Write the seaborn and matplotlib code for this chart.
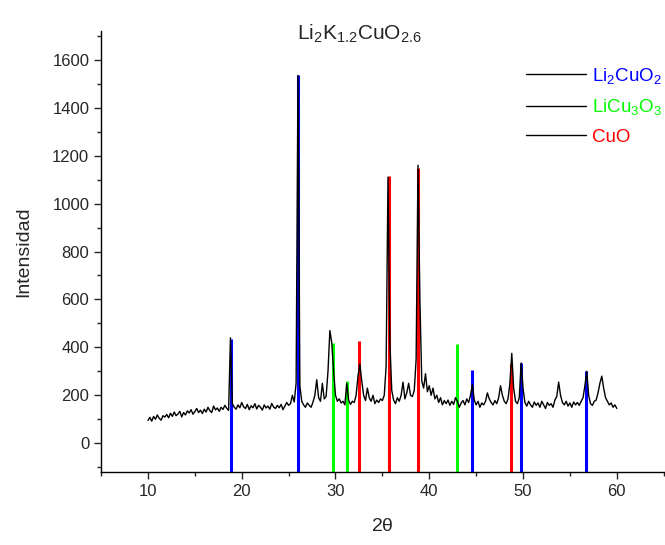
import matplotlib
matplotlib.use("Agg")
import matplotlib.pyplot as plt
from matplotlib.ticker import MultipleLocator
import numpy as np
import pandas as pd
import seaborn as sns

# measured pattern, 2theta = 10 .. 60 step 0.2
two_theta = np.round(np.arange(10.0, 60.01, 0.2), 1)
intensity = [
    95, 108, 92, 112, 100, 118, 104, 96, 115, 109,
    120, 106, 125, 112, 130, 115, 122, 133, 110, 128,
    118, 135, 126, 140, 121, 132, 145, 128, 138, 124,
    142, 130, 150, 136, 128, 155, 139, 147, 133, 150,
    141, 158, 146, 137, 440, 165, 150, 142, 160, 148,
    170, 152, 145, 162, 140, 156, 148, 165, 143, 158,
    150, 138, 160, 147, 155, 142, 166, 151, 145, 158,
    148, 162, 140, 155, 170, 158, 165, 200, 172, 250,
    1535, 240, 175, 160, 150, 168, 158, 150, 172, 200,
    265, 190, 175, 250, 185, 195, 300, 470, 420, 300,
    200, 175, 185, 168, 175, 160, 250, 180, 162, 175,
    170, 200, 280, 330, 260, 200, 178, 230, 190, 175,
    200, 165, 180, 170, 185, 178, 200, 320, 1110, 420,
    220, 180, 165, 190, 175, 200, 255, 185, 210, 250,
    200, 195, 220, 350, 1160, 600, 260, 230, 290, 215,
    240, 200, 230, 185, 200, 170, 190, 160, 178, 165,
    180, 158, 175, 162, 190, 175, 150, 168, 178, 160,
    185, 170, 200, 245, 180, 160, 175, 150, 168, 160,
    175, 210, 185, 170, 160, 178, 165, 190, 240, 200,
    175, 165, 185, 250, 375, 230, 175, 165, 190, 335,
    230, 170, 155, 175, 160, 150, 172, 158, 168, 150,
    175, 160, 145, 170, 158, 165, 150, 180, 195, 255,
    200, 170, 160, 175, 155, 168, 150, 172, 160, 170,
    158, 175, 190, 240, 300, 200, 165, 158, 175, 180,
    210, 250, 280, 230, 190, 175, 160, 168, 150, 160,
    145,
]

# reference peaks
li2cuo2_pos = [18.82, 26.04, 44.58, 49.81, 56.68]
li2cuo2_int = [435, 1535, 306, 335, 302]
licu3o3_pos = [29.71, 31.27, 42.98]
licu3o3_int = [420, 261, 416]
cuo_pos = [32.48, 35.72, 38.85, 48.76]
cuo_int = [428, 1114, 1148, 330]

phase_labels = [r"Li$_2$CuO$_2$", r"LiCu$_3$O$_3$", "CuO"]
phase_colors = ["#0000ff", "#00ff00", "#ff0000"]

sns.set_style("ticks")
plt.rcParams["font.family"] = ["Liberation Sans", "DejaVu Sans"]
plt.rcParams["mathtext.default"] = "regular"

fig = plt.figure(figsize=(6.65, 5.45), dpi=100)
ax = fig.add_axes([0.152, 0.134, 0.846, 0.809])

y_bottom, y_top = -120, 1720
ax.set_xlim(5, 65)
ax.set_ylim(y_bottom, y_top)

phases = [(li2cuo2_pos, li2cuo2_int), (licu3o3_pos, licu3o3_int), (cuo_pos, cuo_int)]
for (pos, inten), col in zip(phases, phase_colors):
    ax.vlines(pos, y_bottom, inten, colors=col, lw=2.2, zorder=2)

df = pd.DataFrame({"2theta": two_theta, "I": intensity})
sns.lineplot(data=df, x="2theta", y="I", color="black", lw=1.0, ax=ax, zorder=3)

# legend: black lines, coloured text
handles = [plt.Line2D([], [], color="black", lw=1) for _ in phase_labels]
leg = fig.legend(handles, phase_labels, loc="upper left",
                 bbox_to_anchor=(526 / 665, 1 - 66 / 545), frameon=False,
                 fontsize=13.5, handlelength=3.2, handletextpad=0.3,
                 labelspacing=0.6, borderpad=0, borderaxespad=0)
for t, c in zip(leg.get_texts(), phase_colors):
    t.set_color(c)

sns.despine(ax=ax)
ax.xaxis.set_major_locator(MultipleLocator(10))
ax.xaxis.set_minor_locator(MultipleLocator(5))
ax.yaxis.set_major_locator(MultipleLocator(200))
ax.yaxis.set_minor_locator(MultipleLocator(100))
ax.tick_params(which="major", direction="out", length=5, width=1, labelsize=12)
ax.tick_params(which="minor", direction="out", length=3, width=1)
for s in ["left", "bottom"]:
    ax.spines[s].set_linewidth(1.0)
    ax.spines[s].set_color("black")

ax.set_xlabel(r"2$\theta$", fontsize=14, labelpad=14)
ax.set_ylabel("Intensidad", fontsize=14, labelpad=14)
fig.text(0.54, 0.937, r"Li$_2$K$_{1.2}$CuO$_{2.6}$", ha="center", va="center", fontsize=15)

fig.savefig("out.png", dpi=100)
